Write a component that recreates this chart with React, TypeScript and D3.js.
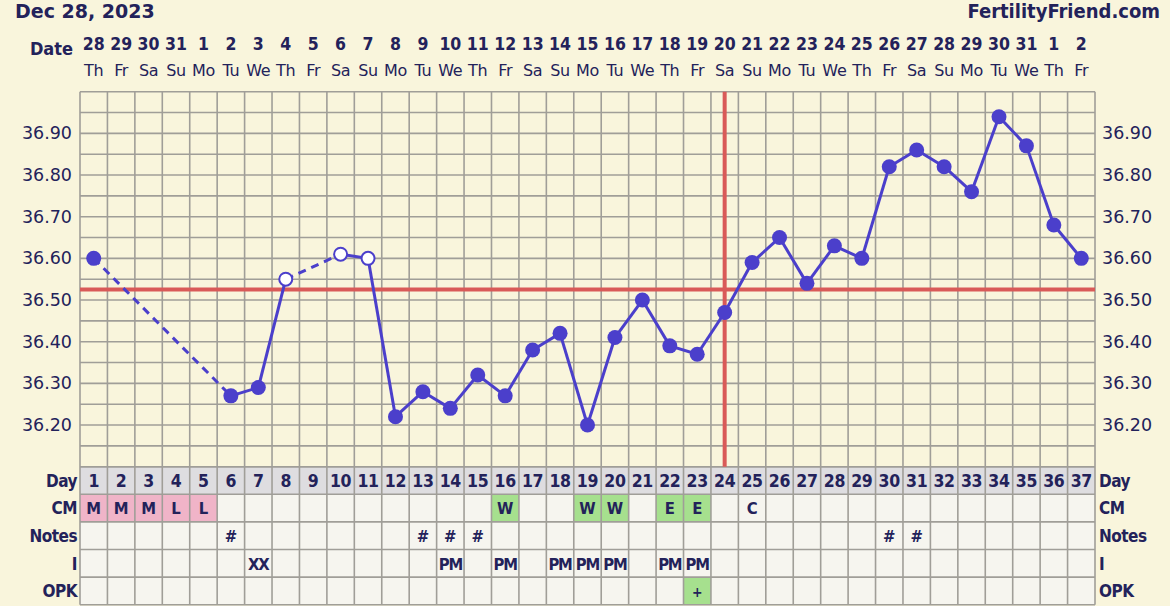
import React from "react";
import * as d3 from "d3";

const dayNums = d3.range(1, 38);
const dateLabels = ["28","29","30","31","1","2","3","4","5","6","7","8","9","10","11","12","13","14","15","16","17","18","19","20","21","22","23","24","25","26","27","28","29","30","31","1","2"];
const dowLabels = ["Th","Fr","Sa","Su","Mo","Tu","We","Th","Fr","Sa","Su","Mo","Tu","We","Th","Fr","Sa","Su","Mo","Tu","We","Th","Fr","Sa","Su","Mo","Tu","We","Th","Fr","Sa","Su","Mo","Tu","We","Th","Fr"];
const temps: (number | null)[] = [36.60,null,null,null,null,36.27,36.29,36.55,null,36.61,36.60,36.22,36.28,36.24,36.32,36.27,36.38,36.42,36.20,36.41,36.50,36.39,36.37,36.47,36.59,36.65,36.54,36.63,36.60,36.82,36.86,36.82,36.76,36.94,36.87,36.68,36.60];
const openDays = [8, 10, 11];
const coverline = 36.525;
const ovulationDay = 24;
const yTicks = [36.2, 36.3, 36.4, 36.5, 36.6, 36.7, 36.8, 36.9];
const cmRow = ["M","M","M","L","L","","","","","","","","","","","W","","","W","W","","E","E","","C","","","","","","","","","","","",""];
const notesRow = ["","","","","","#","","","","","","","#","#","#","","","","","","","","","","","","","","","#","#","","","","","",""];
const iRow = ["","","","","","","XX","","","","","","","PM","","PM","","PM","PM","PM","","PM","PM","","","","","","","","","","","","","",""];
const opkRow = ["","","","","","","","","","","","","","","","","","","","","","","+","","","","","","","","","","","","","",""];
const rowLabels = ["Day", "CM", "Notes", "I", "OPK"];

const W = 1170, H = 606;
const X0 = 80, X1 = 1095;
const YT = 91.7, YB = 466.7;
const ROW_H = 27.6;
const NAVY = "#23225a";
const LINE = "#4b3fcb";
const GRID = "#a09e98";
const BG = "#f9f5dc";

export default function App() {
  const xBand = d3.scaleBand<number>().domain(dayNums).range([X0, X1]).padding(0);
  const cx = (d: number) => (xBand(d) as number) + xBand.bandwidth() / 2;
  const y = d3.scaleLinear().domain([36.1, 37.0]).range([YB, YT]);
  const bw = xBand.bandwidth();
  const tableBottom = YB + ROW_H * 5;

  const pts = dayNums
    .map((d, i) => ({ d, v: temps[i] }))
    .filter((p) => p.v !== null) as { d: number; v: number }[];
  const segs = pts.slice(1).map((p, i) => ({ a: pts[i], b: p, dashed: p.d - pts[i].d > 1 }));
  const lineGen = d3.line<{ d: number; v: number }>().x((p) => cx(p.d)).y((p) => y(p.v));

  const hLines = d3.range(0, 19).map((k) => 36.1 + k * 0.05);

  const cellFill = (code: string, row: number) => {
    if (row === 1 && (code === "M" || code === "L")) return "#f0b4c8";
    if (row === 1 && (code === "W" || code === "E")) return "#a6e08e";
    if (row === 4 && code === "+") return "#a6e08e";
    return "#f6f5ef";
  };
  const rows = [cmRow, notesRow, iRow, opkRow];
  const tFont = "'DejaVu Sans Condensed', 'DejaVu Sans', sans-serif";

  return (
    <svg width={W} height={H} style={{ position: "absolute", left: 0, top: 0, background: BG }} fontFamily="'DejaVu Sans', Verdana, sans-serif">
      <rect x={0} y={0} width={W} height={H} fill={BG} />
      <text x={15} y={18} fontSize={19} fontWeight="bold" fill={NAVY}>Dec 28, 2023</text>
      <text x={1160} y={18} fontSize={20} fontWeight="bold" fill={NAVY} textAnchor="end" fontFamily={tFont}>FertilityFriend.com</text>
      <text x={73} y={55} fontSize={18} fontWeight="bold" fill={NAVY} textAnchor="end" fontFamily={tFont}>Date</text>
      {dayNums.map((d, i) => (
        <g key={"dl" + d}>
          <text x={cx(d)} y={50} fontSize={17.5} fontWeight="bold" fill={NAVY} textAnchor="middle" fontFamily={tFont}>{dateLabels[i]}</text>
          <text x={cx(d)} y={76} fontSize={16} fill={NAVY} textAnchor="middle" letterSpacing={-0.3}>{dowLabels[i]}</text>
        </g>
      ))}
      {dayNums.map((d) => (
        <rect key={"dbg" + d} x={xBand(d)} y={YB} width={bw} height={ROW_H} fill="#dedde0" />
      ))}
      {rows.map((r, ri) =>
        dayNums.map((d, i) => (
          <rect key={"c" + ri + "-" + d} x={xBand(d)} y={YB + ROW_H * (ri + 1)} width={bw} height={ROW_H} fill={cellFill(r[i], ri + 1)} />
        ))
      )}
      {hLines.map((v, k) => (
        <line key={"h" + k} x1={X0} x2={X1} y1={y(v)} y2={y(v)} stroke={GRID} strokeWidth={1.6} />
      ))}
      {d3.range(0, 6).map((k) => (
        <line key={"th" + k} x1={X0} x2={X1} y1={YB + ROW_H * k} y2={YB + ROW_H * k} stroke={GRID} strokeWidth={1.6} />
      ))}
      {d3.range(0, 38).map((k) => (
        <line key={"v" + k} x1={X0 + k * bw} x2={X0 + k * bw} y1={YT} y2={tableBottom} stroke={GRID} strokeWidth={1.6} />
      ))}
      {yTicks.map((t) => (
        <g key={"yt" + t}>
          <text x={72} y={y(t) + 6} fontSize={17.5} fill={NAVY} textAnchor="end">{t.toFixed(2)}</text>
          <text x={1102} y={y(t) + 6} fontSize={17.5} fill={NAVY}>{t.toFixed(2)}</text>
        </g>
      ))}
      {dayNums.map((d) => (
        <text key={"dn" + d} x={cx(d)} y={YB + 20.5} fontSize={17.5} fontWeight="bold" fill={NAVY} textAnchor="middle" fontFamily={tFont} letterSpacing={-0.3}>{d}</text>
      ))}
      {rows.map((r, ri) =>
        dayNums.map((d, i) =>
          r[i] ? (
            <text key={"t" + ri + "-" + d} x={cx(d)} y={YB + ROW_H * (ri + 1) + 20} fontSize={r[i] === "+" ? 14 : 16.5} fontWeight="bold" fill={NAVY} textAnchor="middle" fontFamily={tFont} letterSpacing={r[i].length > 1 ? -1.2 : 0}>{r[i]}</text>
          ) : null
        )
      )}
      {rowLabels.map((l, k) => (
        <g key={"rl" + l}>
          <text x={77} y={YB + ROW_H * k + 20} fontSize={17} fontWeight="bold" fill={NAVY} textAnchor="end" fontFamily={tFont} letterSpacing={-0.5}>{l}</text>
          <text x={1099} y={YB + ROW_H * k + 20} fontSize={17} fontWeight="bold" fill={NAVY} fontFamily={tFont} letterSpacing={-0.5}>{l}</text>
        </g>
      ))}
      <line x1={X0} x2={X1} y1={y(coverline)} y2={y(coverline)} stroke="#d95a58" strokeWidth={4} />
      <line x1={cx(ovulationDay)} x2={cx(ovulationDay)} y1={YT} y2={YB} stroke="#d95a58" strokeWidth={4} />
      {segs.map((s, k) => (
        <path key={"s" + k} d={lineGen([s.a, s.b]) as string} fill="none" stroke={LINE} strokeWidth={3} strokeDasharray={s.dashed ? "8,6" : undefined} />
      ))}
      {pts.map((p) =>
        openDays.includes(p.d) ? (
          <circle key={"p" + p.d} cx={cx(p.d)} cy={y(p.v)} r={6.5} fill="#ffffff" stroke={LINE} strokeWidth={2} />
        ) : (
          <circle key={"p" + p.d} cx={cx(p.d)} cy={y(p.v)} r={7.5} fill={LINE} />
        )
      )}
    </svg>
  );
}
